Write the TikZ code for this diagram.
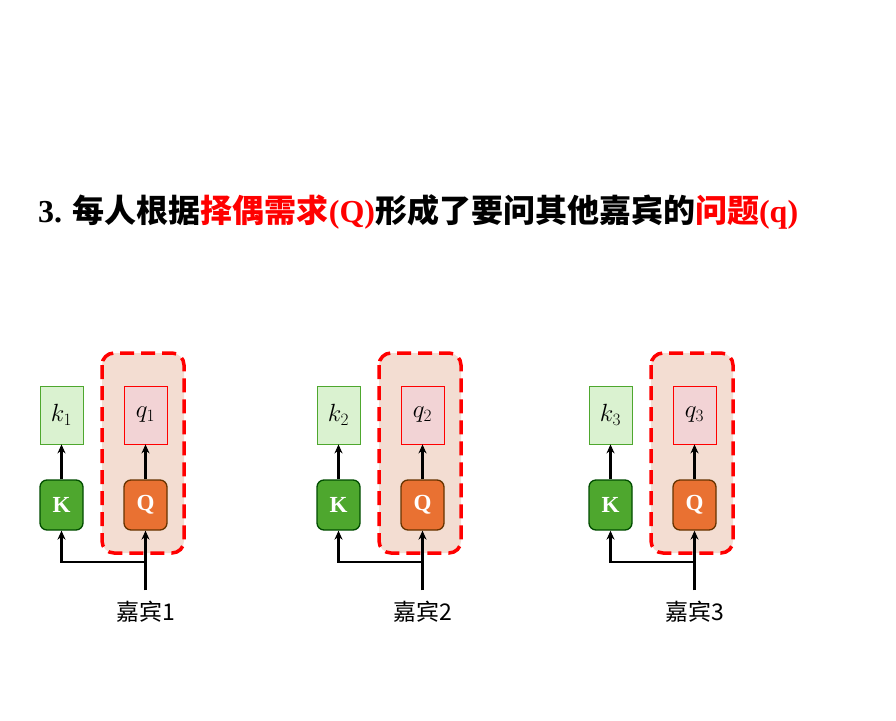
\documentclass[tikz,border=0pt]{standalone}
\usetikzlibrary{arrows.meta}
\usepackage{fontspec}
\setmainfont{Liberation Serif}
\newfontfamily\cjk{Noto Sans CJK SC}
\newfontfamily\cjkb{Noto Sans CJK SC Bold}
\definecolor{kfill}{HTML}{4EA72E}
\definecolor{qfill}{HTML}{E97132}
\definecolor{kl}{HTML}{DAF2D0}
\definecolor{ql}{HTML}{F2D3D5}
\definecolor{rg}{HTML}{F3DDD2}
\begin{document}
\begin{tikzpicture}[x=1pt,y=-1pt,
  kbox/.style={draw=kfill,fill=kl,line width=0.8pt,minimum width=43pt,minimum height=58pt,inner sep=0pt,font=\fontsize{24}{24}\selectfont},
  qbox/.style={draw=red,fill=ql,line width=0.8pt,minimum width=43pt,minimum height=58pt,inner sep=0pt,font=\fontsize{24}{24}\selectfont},
  Kbtn/.style={draw=green!30!black,fill=kfill,rounded corners=7pt,line width=1.3pt,minimum width=43pt,minimum height=50pt,inner sep=0pt,text=white,font=\bfseries\fontsize{23}{23}\selectfont},
  Qbtn/.style={Kbtn,draw=orange!40!black,fill=qfill},
  region/.style={draw=red,dash pattern=on 14pt off 7pt,line width=3.5pt,fill=rg,rounded corners=12pt},
  arr/.style={-{Stealth[length=9pt,width=8pt]},line width=2.8pt},
  lbl/.style={font=\cjk\fontsize{23}{23}\selectfont}]
\useasboundingbox (0,0) rectangle (896,720);
\node[anchor=west,inner sep=0pt,font=\bfseries\fontsize{32}{32}\selectfont] (title) at (38,212)
 {3. {\cjkb 每人根据}\textcolor{red}{{\cjkb 择偶需求}(Q)}{\cjkb 形成了要问其他嘉宾的}\textcolor{red}{{\cjkb 问题}(q)}};
\foreach \i/\dx in {1/0,2/277,3/549}{
  \begin{scope}[xshift=\dx]
  \draw[region] (102,353) rectangle (184,553);
  \node[kbox] (k\i) at (61.5,415) {$k_{\i}$};
  \node[qbox] (q\i) at (145.5,415) {$q_{\i}$};
  \node[Kbtn] (K\i) at (61.5,505) {K};
  \node[Qbtn] (Q\i) at (145.5,505) {Q};
  \coordinate (s\i) at (145.5,590);
  \coordinate (m\i) at (61.5,562);
  \node[lbl] (g\i) at (145.5,612) {嘉宾\i};
  \draw[arr] (K\i) -- (k\i);
  \draw[arr] (Q\i) -- (q\i);
  \draw[arr] (s\i) -- (Q\i);
  \draw[arr] (s\i) |- (m\i) -- (K\i);
  \end{scope}}
\end{tikzpicture}
\end{document}
